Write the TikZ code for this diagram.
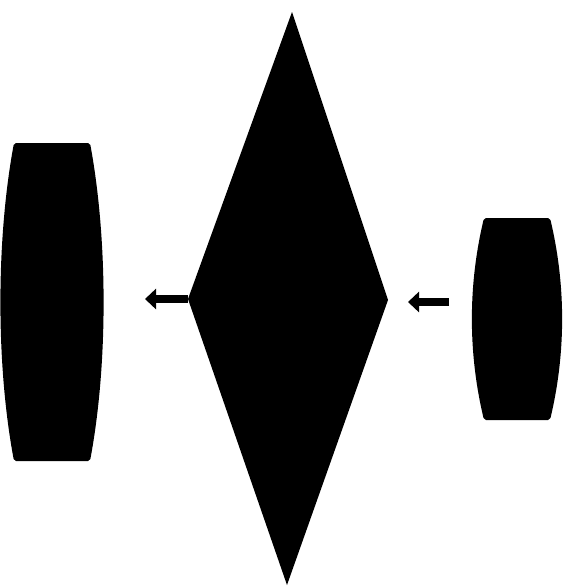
\documentclass[tikz,border=0pt]{standalone}
\usetikzlibrary{arrows.meta}
\tikzset{lens/.style={fill=black,rounded corners=2pt},
  push/.style={-{Triangle[width=20pt,length=11pt]},line width=8pt}}
\begin{document}
\begin{tikzpicture}[x=1pt,y=-1pt]
\useasboundingbox (0,0) rectangle (570,587);
% left lens
\fill[lens] (52,143) -- (90,143) .. controls (108,240) and (108,365) .. (90,461)
  -- (14,461) .. controls (-4,365) and (-4,240) .. (14,143) -- cycle;
% right lens
\fill[lens] (517,218) -- (550,218) .. controls (566,285) and (566,353) .. (550,420)
  -- (484,420) .. controls (468,353) and (468,285) .. (484,218) -- cycle;
% diamond
\coordinate (dt) at (292,12);
\coordinate (dr) at (388,300);
\coordinate (db) at (287,585);
\coordinate (dl) at (188,299);
\fill (dt) -- (dr) -- (db) -- (dl) -- cycle;
\coordinate (a1) at (145,299);
\coordinate (b0) at (449,302);
\coordinate (b1) at (408,302);
\draw[push] (dl) -- (a1);
\draw[push] (b0) -- (b1);
\end{tikzpicture}
\end{document}
